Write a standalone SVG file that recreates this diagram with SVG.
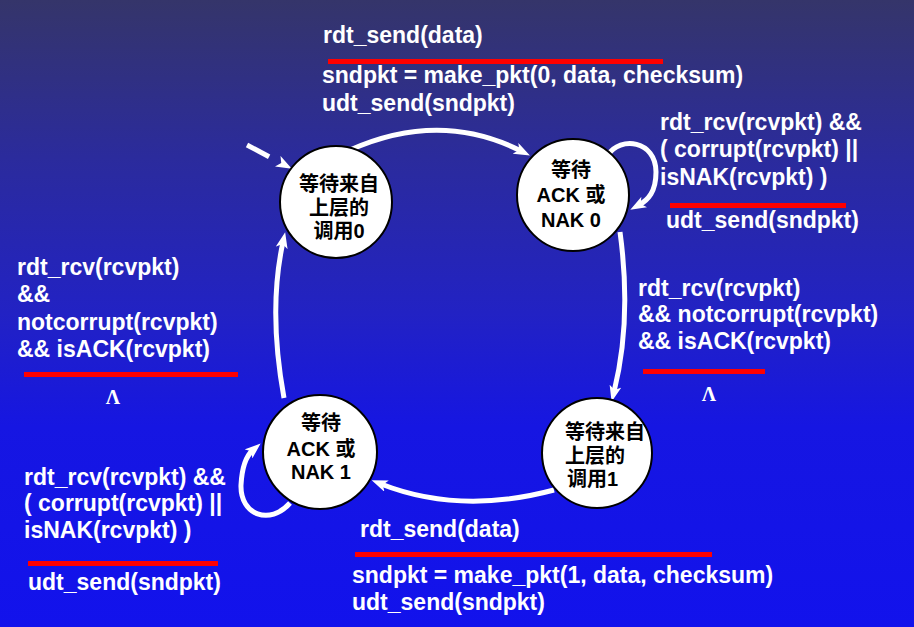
<svg xmlns="http://www.w3.org/2000/svg" width="914" height="627" viewBox="0 0 914 627">
<defs>
<linearGradient id="bg" x1="0" y1="0" x2="0" y2="1">
<stop offset="0" stop-color="#35356a"/>
<stop offset="0.25" stop-color="#2b2b9c"/>
<stop offset="0.5" stop-color="#2222c4"/>
<stop offset="0.68" stop-color="#1616e2"/>
<stop offset="1" stop-color="#1212ec"/>
</linearGradient>
<marker id="ah" markerUnits="userSpaceOnUse" viewBox="0 0 16 12" refX="6" refY="6" markerWidth="16" markerHeight="12" orient="auto">
<path d="M0,0 L16,6 L0,12 L4,6 z" fill="#ffffff"/>
</marker>
<style>
.lbl{font-family:"Liberation Sans","Noto Sans CJK SC",Arial,sans-serif;font-weight:bold;font-size:23px;fill:#ffffff}
.nt{font-family:"Liberation Sans","Noto Sans CJK SC",Arial,sans-serif;font-weight:bold;font-size:20px;fill:#000000}
.st{fill:#ffffff;stroke:#000000;stroke-width:2}
.ar{fill:none;stroke:#ffffff;stroke-width:5;marker-end:url(#ah)}
.red{fill:#ff0000}
.lam{font-family:"Liberation Serif","DejaVu Serif",serif;font-weight:bold;font-size:20px;fill:#ffffff}
</style>
</defs>
<rect x="0" y="0" width="914" height="627" fill="url(#bg)"/>

<g id="connectors">
<path class="ar" d="M247,145 L283,164" stroke-dasharray="25 100"/>
<path class="ar" d="M350,150 Q440,110 521,151"/>
<path class="ar" d="M608,155 C620,136 656,140 656,172 C656,192 648,200 639,205"/>
<path class="ar" d="M620,232 Q632,320 614,392"/>
<path class="ar" d="M554,490 Q460,515 381,484"/>
<path class="ar" d="M290,503 C270,526 240,515 241,485 C242,466 246,456 253,450"/>
<path class="ar" d="M284,398 Q268,310 283,242"/>
</g>

<g id="state0">
<circle class="st" cx="336" cy="202" r="56"/>
<text class="nt" x="339" y="191" text-anchor="middle">等待来自</text>
<text class="nt" x="339" y="215" text-anchor="middle">上层的</text>
<text class="nt" x="339" y="238" text-anchor="middle">调用0</text>
</g>
<g id="state1">
<circle class="st" cx="573" cy="195" r="56"/>
<text class="nt" x="571" y="177" text-anchor="middle">等待</text>
<text class="nt" x="571" y="202" text-anchor="middle">ACK 或</text>
<text class="nt" x="571" y="227" text-anchor="middle">NAK 0</text>
</g>
<g id="state2">
<circle class="st" cx="597" cy="453" r="55"/>
<text class="nt" x="565" y="439">等待来自</text>
<text class="nt" x="565" y="463">上层的</text>
<text class="nt" x="567" y="486">调用1</text>
</g>
<g id="state3">
<circle class="st" cx="320" cy="452" r="57"/>
<text class="nt" x="321" y="430" text-anchor="middle">等待</text>
<text class="nt" x="321" y="456" text-anchor="middle">ACK 或</text>
<text class="nt" x="321" y="479" text-anchor="middle">NAK 1</text>
</g>

<g id="labels">
<text class="lbl" x="323" y="43">rdt_send(data)</text>
<rect class="red" x="328" y="59" width="335" height="5"/>
<text class="lbl" x="322" y="83">sndpkt = make_pkt(0, data, checksum)</text>
<text class="lbl" x="322" y="111">udt_send(sndpkt)</text>

<text class="lbl" x="660" y="130">rdt_rcv(rcvpkt) &amp;&amp;</text>
<text class="lbl" x="660" y="157">( corrupt(rcvpkt) ||</text>
<text class="lbl" x="660" y="185">isNAK(rcvpkt) )</text>
<rect class="red" x="670" y="203" width="176" height="5"/>
<text class="lbl" x="666" y="228">udt_send(sndpkt)</text>

<text class="lbl" x="638" y="296">rdt_rcv(rcvpkt)</text>
<text class="lbl" x="638" y="322">&amp;&amp; notcorrupt(rcvpkt)</text>
<text class="lbl" x="638" y="349">&amp;&amp; isACK(rcvpkt)</text>
<rect class="red" x="643" y="369" width="122" height="5"/>
<text class="lam" x="709" y="401" text-anchor="middle">Λ</text>

<text class="lbl" x="17" y="275">rdt_rcv(rcvpkt)</text>
<text class="lbl" x="17" y="302">&amp;&amp;</text>
<text class="lbl" x="17" y="330">notcorrupt(rcvpkt)</text>
<text class="lbl" x="17" y="357">&amp;&amp; isACK(rcvpkt)</text>
<rect class="red" x="24" y="372" width="214" height="5"/>
<text class="lam" x="113" y="404" text-anchor="middle">Λ</text>

<text class="lbl" x="24" y="485">rdt_rcv(rcvpkt) &amp;&amp;</text>
<text class="lbl" x="24" y="511">( corrupt(rcvpkt) ||</text>
<text class="lbl" x="24" y="538">isNAK(rcvpkt) )</text>
<rect class="red" x="28" y="561" width="190" height="5"/>
<text class="lbl" x="28" y="590">udt_send(sndpkt)</text>

<text class="lbl" x="360" y="537">rdt_send(data)</text>
<rect class="red" x="355" y="552" width="357" height="5"/>
<text class="lbl" x="352" y="583">sndpkt = make_pkt(1, data, checksum)</text>
<text class="lbl" x="352" y="610">udt_send(sndpkt)</text>
</g>
</svg>
